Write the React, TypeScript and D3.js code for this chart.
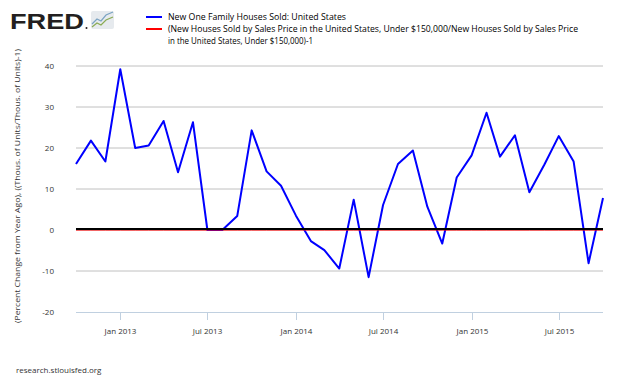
import React from "react";
import * as d3 from "d3";

const startMonth = "2012-10";
const soldYoY = [
  16.1, 21.8, 16.7, 39.2, 20.0, 20.6, 26.6, 14.1, 26.3, 0.0, 0.0, 3.4,
  24.3, 14.3, 10.8, 3.5, -2.7, -4.9, -9.4, 7.4, -11.5, 6.1, 16.1, 19.4,
  5.7, -3.3, 12.8, 18.2, 28.6, 17.9, 23.1, 9.2, 15.9, 22.9, 16.7, -8.1, 7.8,
];
const ratioSeries = new Array(37).fill(0);
const yTicks = [-20, -10, 0, 10, 20, 30, 40];
const xTickLabels = ["Jan 2013", "Jul 2013", "Jan 2014", "Jul 2014", "Jan 2015", "Jul 2015"];
const xTickDates = ["2013-01", "2013-07", "2014-01", "2014-07", "2015-01", "2015-07"];
const legendLabels = [
  "New One Family Houses Sold: United States",
  "(New Houses Sold by Sales Price in the United States, Under $150,000/New Houses Sold by Sales Price",
  "in the United States, Under $150,000)-1",
];

const parse = d3.timeParse("%Y-%m");

export default function App() {
  const W = 630, H = 378;
  const left = 76, right = 603, top = 66, bottom = 312;
  const start = parse(startMonth)!;
  const dates = soldYoY.map((_, i) => d3.timeMonth.offset(start, i));
  const x = d3.scaleTime().domain([dates[0], dates[dates.length - 1]]).range([left, right]);
  const y = d3.scaleLinear().domain([-20, 40]).range([bottom, top]);
  const line = d3.line<number>().x((_, i) => x(dates[i])).y((d) => y(d));
  const font = "'Open Sans', 'DejaVu Sans', sans-serif";
  const y0 = y(0);

  return (
    <svg width={W} height={H} style={{ position: "absolute", left: 0, top: 0 }} fontFamily={font}>
      <rect width={W} height={H} fill="#fff" />
      {/* Logo */}
      <text x={10} y={28.5} fontSize={22} fontWeight="bold" fill="#231f20" fontFamily="'Liberation Sans', Arial, sans-serif" textLength={74} lengthAdjust="spacingAndGlyphs">FRED</text>
      <circle cx={86.5} cy={28} r={1} fill="#231f20" />
      <rect x={91} y={11} width={23} height={18} rx={2} fill="#e6eaee" />
      <polyline points="92,24 97,19 101,21 106,15 113,12" fill="none" stroke="#7aa3c2" strokeWidth={1.2} />
      <polyline points="92,27 97,23 101,25 106,20 113,17" fill="none" stroke="#8aab54" strokeWidth={1.2} />

      {/* Legend */}
      <line x1={146} x2={162} y1={17} y2={17} stroke="#0000ff" strokeWidth={2} />
      <line x1={146} x2={162} y1={29} y2={29} stroke="#ff0000" strokeWidth={2} />
      <text x={168} y={20} fontSize={8.6} fill="#000" textLength={178} lengthAdjust="spacingAndGlyphs">{legendLabels[0]}</text>
      <text x={168} y={32} fontSize={8.6} fill="#000" textLength={410} lengthAdjust="spacingAndGlyphs">{legendLabels[1]}</text>
      <text x={168} y={44} fontSize={8.6} fill="#000" textLength={145} lengthAdjust="spacingAndGlyphs">{legendLabels[2]}</text>

      {/* Grid */}
      {yTicks.map((t) => (
        <g key={t}>
          {t !== -20 && <line x1={left} x2={right} y1={y(t)} y2={y(t)} stroke="#c0c0c0" strokeWidth={1} />}
          <text x={54} y={y(t) + 3} fontSize={8} textAnchor="end" fill="#333">{t}</text>
        </g>
      ))}
      <line x1={left} x2={right} y1={bottom + 0.5} y2={bottom + 0.5} stroke="#c0d0e0" strokeWidth={1} />
      {xTickDates.map((d, i) => {
        const xx = Math.round(x(parse(d)!)) + 0.5;
        return (
          <g key={d}>
            <line x1={xx} x2={xx} y1={bottom} y2={bottom + 8} stroke="#c0d0e0" strokeWidth={1} />
            <text x={xx} y={334} fontSize={8} textAnchor="middle" fill="#333">{xTickLabels[i]}</text>
          </g>
        );
      })}

      {/* Y label */}
      <text transform={`translate(20,${(top + bottom) / 2 - 3}) rotate(-90)`} fontSize={8} textAnchor="middle" fill="#333" textLength={274} lengthAdjust="spacingAndGlyphs">
        (Percent Change from Year Ago), ((Thous. of Units/Thous. of Units)-1)
      </text>

      {/* Series */}
      <path d={line(soldYoY)!} fill="none" stroke="#0000ff" strokeWidth={2} strokeLinejoin="round" />
      <line x1={left} x2={right} y1={y0 - 1} y2={y0 - 1} stroke="#000" strokeWidth={2} />
      <path d={line(ratioSeries)!} transform="translate(0,0.5)" fill="none" stroke="#ff0000" strokeOpacity={0.55} strokeWidth={1} />

      <text x={16} y={373} fontSize={8} fill="#333">research.stlouisfed.org</text>
    </svg>
  );
}
